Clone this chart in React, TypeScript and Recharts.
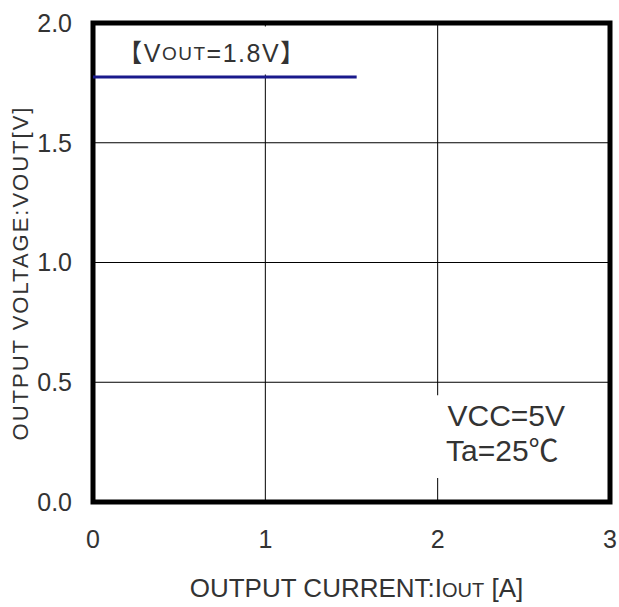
import React from 'react';
import { LineChart, Line, XAxis, YAxis, CartesianGrid, ReferenceArea, Label } from 'recharts';

// output current [A] vs output voltage [V]
const currentA = [0, 1.53];
const voutV = [1.775, 1.775];
const xTicks = [0, 1, 2, 3];
const yTicks = [0, 0.5, 1.0, 1.5, 2.0];

const data = currentA.map((c, i) => ({ current: c, vout: voutV[i] }));

const FONT = '"Liberation Sans", Arial, "Noto Sans CJK JP", sans-serif';
const INK = '#333';

const XTitle = (props: any) => {
  const vb = props.viewBox || {};
  const cx = vb.x + vb.width / 2 + 5;
  return (
    <text x={cx} y={vb.y + 95} textAnchor="middle" fontFamily={FONT} fontSize={26} fill={INK}>
      OUTPUT CURRENT:I<tspan fontSize={20}>OUT</tspan> [A]
    </text>
  );
};

const YTitle = () => (
  <text
    x={20}
    y={273}
    transform="rotate(-90 20 273)"
    textAnchor="middle"
    dominantBaseline="central"
    fontFamily={FONT}
    fontSize={22}
    letterSpacing={2}
    fill={INK}
  >
    OUTPUT VOLTAGE:VOUT[V]
  </text>
);

const TopNote = (props: any) => {
  const vb = props.viewBox || {};
  return (
    <text
      x={vb.x + vb.width / 2 - 6}
      y={vb.y + vb.height / 2 + 2}
      textAnchor="middle"
      dominantBaseline="central"
      fontFamily={FONT}
      fontSize={25}
      letterSpacing={1.5}
      fill={INK}
    >
      【V<tspan fontSize={19}>OUT</tspan>=1.8V】
    </text>
  );
};

const CondNote = (props: any) => {
  const vb = props.viewBox || {};
  const cx = vb.x + vb.width / 2;
  const cy = vb.y + vb.height / 2;
  return (
    <g fontFamily={FONT} fontSize={30} fill={INK}>
      <text x={cx + 4} y={cy - 21} textAnchor="middle" dominantBaseline="central">
        VCC=5V
      </text>
      <text x={cx} y={cy + 14} textAnchor="middle" dominantBaseline="central">
        Ta=25℃
      </text>
    </g>
  );
};

export default function App() {
  return (
    <div style={{ position: 'absolute', left: 0, top: 0, background: '#fff' }}>
      <LineChart width={619} height={607} data={data} margin={{ top: 23, right: 9, bottom: 0, left: 0 }}>
        <CartesianGrid stroke="#000" strokeWidth={1} />
        <XAxis
          type="number"
          dataKey="current"
          domain={[0, 3]}
          ticks={xTicks}
          height={105}
          axisLine={false}
          tickLine={false}
          tickSize={0}
          tickMargin={28}
          tick={{ fontFamily: FONT, fontSize: 25, fill: INK }}
        >
          <Label content={<XTitle />} />
        </XAxis>
        <YAxis
          type="number"
          domain={[0, 2]}
          ticks={yTicks}
          width={93}
          axisLine={false}
          tickLine={false}
          tickSize={0}
          tickMargin={21}
          tickFormatter={(v: number) => v.toFixed(1)}
          tick={{ fontFamily: FONT, fontSize: 25, fill: INK }}
        >
          <Label content={<YTitle />} />
        </YAxis>
        <ReferenceArea x1={0.03} x2={1.42} y1={1.785} y2={1.985} fill="#fff" fillOpacity={1} stroke="none">
          <Label content={<TopNote />} />
        </ReferenceArea>
        <ReferenceArea x1={1.85} x2={2.9} y1={0.1} y2={0.446} fill="#fff" fillOpacity={1} stroke="none">
          <Label content={<CondNote />} />
        </ReferenceArea>
        <Line
          type="linear"
          dataKey="vout"
          stroke="#1a1a8c"
          strokeWidth={3}
          dot={false}
          isAnimationActive={false}
        />
        <ReferenceArea
          x1={0}
          x2={3}
          y1={0}
          y2={2}
          fill="none"
          stroke="#000"
          strokeWidth={5}
          ifOverflow="visible"
        />
      </LineChart>
    </div>
  );
}
